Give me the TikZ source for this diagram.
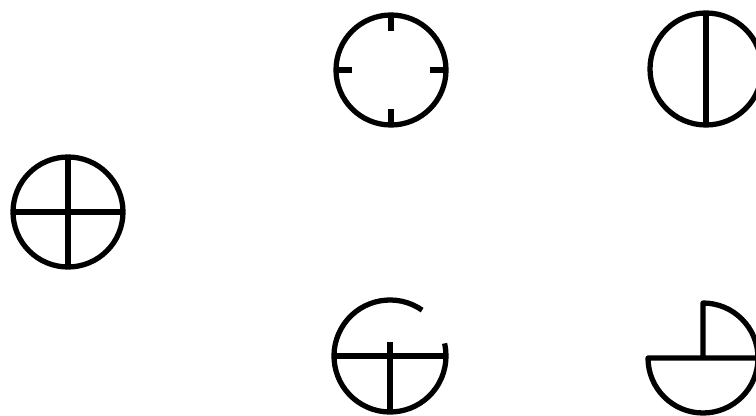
\documentclass[tikz,border=0pt]{standalone}
\usepackage{tikz}

\tikzset{sym/.style={line width=4.5pt, line join=round}}

\begin{document}
\begin{tikzpicture}[x=0.03cm, y=0.03cm]
\useasboundingbox (0,0) rectangle (756,415);
\clip (0,0) rectangle (756,415);

% Centres
\coordinate (cross) at (68,203);
\coordinate (ticks) at (391,345);
\coordinate (split) at (706,346);
\coordinate (open) at (390,59);
\coordinate (quad) at (703,57);

% Crossed circle
\draw[sym] (cross) circle[radius=55];
\draw[sym] ([shift={(-55,0)}]cross) -- ([shift={(55,0)}]cross);
\draw[sym] ([shift={(0,55)}]cross) -- ([shift={(0,-55)}]cross);

% Circle with ticks
\draw[sym] (ticks) circle[radius=55];
\foreach \a in {0,90,180,270}
  \draw[sym] ([shift={(\a:55)}]ticks) -- ([shift={(\a:39)}]ticks);

% Split circle
\draw[sym] (split) circle[radius=56];
\draw[sym] ([shift={(0,56)}]split) -- ([shift={(0,-56)}]split);

% Open circle
\draw[sym] ([shift={(55:56)}]open) arc[start angle=55, end angle=373, radius=56];
\draw[sym] ([shift={(-56,0)}]open) -- ([shift={(56,0)}]open);
\draw[sym] ([shift={(0,14)}]open) -- ([shift={(0,-56)}]open);

% Half and quarter
\draw[sym] ([shift={(-55,0)}]quad) arc[start angle=180, end angle=360, radius=55] -- cycle;
\draw[sym] (quad) -- ([shift={(0,55)}]quad) arc[start angle=90, end angle=0, radius=55];
\end{tikzpicture}
\end{document}
